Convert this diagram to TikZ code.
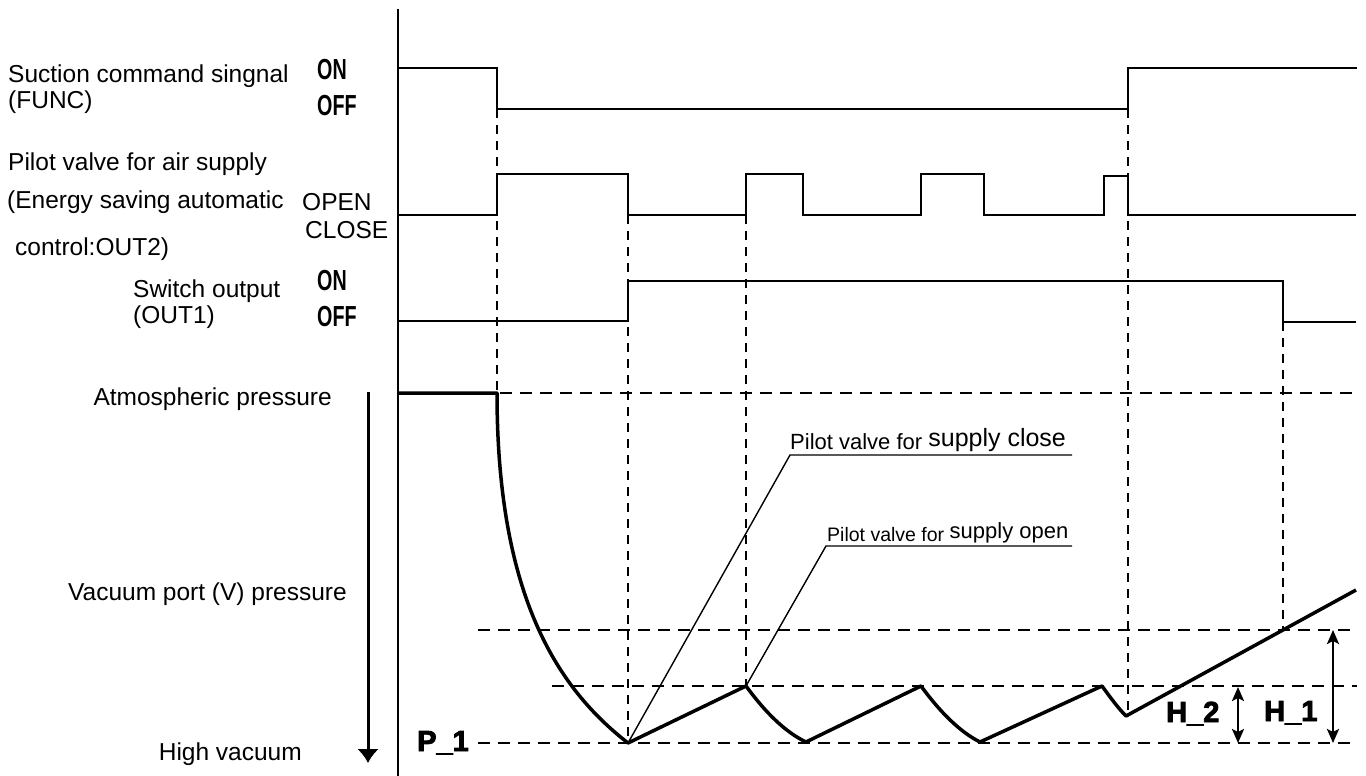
\documentclass[tikz,border=0pt]{standalone}
\usepackage{fontspec}
\setmainfont{Liberation Sans}
\newfontfamily\condfont{Liberation Sans Bold}[FakeStretch=0.68]
\newfontfamily\heavyfont{Liberation Sans Bold}[FakeBold=3]
\usetikzlibrary{arrows.meta}
\tikzset{
  sig/.style={line width=1.6pt, line join=miter},
  vdash/.style={line width=2pt, dash pattern=on 9pt off 7pt},
  hdash/.style={line width=2.5pt, dash pattern=on 12pt off 8pt},
  press/.style={line width=3.5pt, line join=round},
  leader/.style={line width=1.4pt},
  lbl/.style={inner sep=0pt, anchor=base west, font=\fontsize{24.5}{28}\selectfont},
  lble/.style={inner sep=0pt, anchor=base east, font=\fontsize{24.5}{28}\selectfont},
  onoff/.style={inner sep=0pt, anchor=base west, font=\fontsize{29}{30}\condfont},
  heavy/.style={inner sep=0pt, anchor=base west, font=\fontsize{29}{30}\heavyfont},
  dimarrow/.style={line width=2.5pt, {Stealth[length=14pt,width=12pt,inset=3pt]}-{Stealth[length=14pt,width=12pt,inset=3pt]}},
}
\begin{document}
\begin{tikzpicture}[x=1pt,y=-1pt]
\useasboundingbox (0,0) rectangle (1366,776);

% left labels
\node[lbl] (t1) at (8,82) {Suction command singnal};
\node[lbl] (t2) at (8,108) {(FUNC)};
\node[onoff] (on1) at (317,80) {ON};
\node[onoff] (off1) at (317,115) {OFF};
\node[lbl] (t3) at (8,170) {Pilot valve for air supply};
\node[lbl] (t4) at (7,208) {(Energy saving automatic};
\node[lbl] (t5) at (15,255) {control:OUT2)};
\node[lbl] (open) at (302,210) {OPEN};
\node[lbl] (close) at (305,238) {CLOSE};
\node[lbl] (t6) at (133,297) {Switch output};
\node[lbl] (t7) at (133,323) {(OUT1)};
\node[onoff] (on2) at (317,290) {ON};
\node[onoff] (off2) at (317,326) {OFF};
\node[lble] (atm) at (332,405) {Atmospheric pressure};
\node[lble] (vac) at (347,600) {Vacuum port (V) pressure};
\node[lble] (high) at (302,760) {High vacuum};

% pressure direction arrow
\coordinate (ar0) at (368,392);
\coordinate (ar1) at (368,763);
\draw[line width=3pt, -{Latex[length=14pt,width=22pt]}] (ar0) -- (ar1);

% axis
\coordinate (ax0) at (398,9);
\coordinate (ax1) at (398,776);
\draw[sig] (ax0) -- (ax1);

% dashed verticals
\draw[vdash] (497,109) -- (497,393);
\draw[vdash] (628,215) -- (628,743);
\draw[vdash] (746,215) -- (746,686);
\draw[vdash] (1128,109) -- (1128,715);
\draw[vdash] (1283,322) -- (1283,630);

% dashed horizontals
\draw[hdash] (500,393) -- (1357,393);
\draw[hdash] (478,630) -- (1357,630);
\draw[hdash] (552,686) -- (1357,686);
\draw[hdash] (478,743) -- (1357,743);

% signals
\draw[sig] (398,68) -| (497,109) -| (1128,68) -- (1357,68);
\draw[sig] (398,215) -| (497,174) -| (628,215) -| (746,174) -| (803,215) -| (921,174) -| (984,215) -| (1104,176) -| (1128,215) -- (1356,215);
\draw[sig] (398,321) -| (628,281) -| (1283,322) -- (1356,322);

% pressure curve
\coordinate (p0) at (398,393);
\coordinate (p1) at (497,393);
\coordinate (v1) at (628,743);
\coordinate (k1) at (746,686);
\coordinate (v2) at (806,742);
\coordinate (k2) at (921,686);
\coordinate (v3) at (980,742);
\coordinate (k3) at (1102,686);
\coordinate (v4) at (1126,716);
\coordinate (pe) at (1356,590);
\draw[press] (p0) -- (p1) .. controls (497,600) and (560,690) .. (v1) -- (k1)
  .. controls (765,712) and (785,732) .. (v2) -- (k2)
  .. controls (940,712) and (960,732) .. (v3) -- (k3)
  .. controls (1110,697) and (1118,708) .. (v4) -- (pe);

% leaders
\coordinate (lc0) at (790,455);
\coordinate (lc1) at (1072,455);
\coordinate (lo0) at (826,546);
\coordinate (lo1) at (1072,546);
\draw[leader] (v1) -- (lc0) -- (lc1);
\draw[leader] (k1) -- (lo0) -- (lo1);
\node[inner sep=0pt, anchor=base west] (pc) at (790,449)
  {\fontsize{22}{24}\selectfont Pilot valve for \raisebox{3pt}{\fontsize{25}{26}\selectfont supply close}};
\node[inner sep=0pt, anchor=base west] (po) at (827,541)
  {\fontsize{19.5}{22}\selectfont Pilot valve for \raisebox{3pt}{\fontsize{22}{24}\selectfont supply open}};

% heavy labels
\node[heavy] (P1) at (417,751) {P\_1};
\node[heavy] (H2) at (1166,722) {H\_2};
\node[heavy] (H1) at (1264,721) {H\_1};

% dimension arrows
\coordinate (h2a) at (1238,687);
\coordinate (h2b) at (1238,743);
\coordinate (h1a) at (1333,630);
\coordinate (h1b) at (1333,743);
\draw[dimarrow] (h2a) -- (h2b);
\draw[dimarrow] (h1a) -- (h1b);
\end{tikzpicture}
\end{document}
